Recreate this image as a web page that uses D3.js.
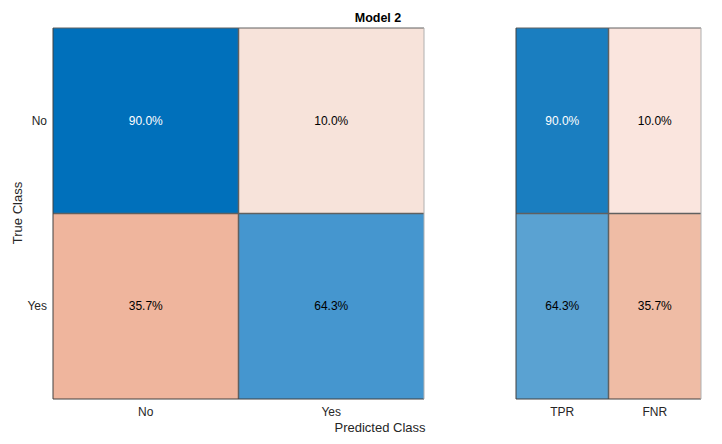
<!DOCTYPE html>
<html><head><meta charset="utf-8">
<script src="https://cdn.jsdelivr.net/npm/d3@7"></script>
<style>body{margin:0;background:#fff}svg{display:block;font-family:"Liberation Sans",Arial,sans-serif}</style>
</head><body><svg id="c" width="722" height="444"></svg>
<script>
const classes = ["No", "Yes"];
const matrixValues = [[90.0, 10.0], [35.7, 64.3]];
const matrixColors = [["#0070BB", "#F7E3DA"], ["#EFB59D", "#4596CF"]];
const rateLabels = ["TPR", "FNR"];
const rateValues = [[90.0, 10.0], [64.3, 35.7]];
const rateColors = [["#1A7EC0", "#FAE5DE"], ["#5AA2D2", "#EFBCA5"]];
const textColors = [["#fff", "#000"], ["#000", "#000"]];
const rateTextColors = [["#fff", "#000"], ["#000", "#000"]];

const svg = d3.select("#c");
const yTop = 28, yBottom = 399;
const y = d3.scaleBand().domain(classes).range([yTop, yBottom]);
const xMain = d3.scaleBand().domain(classes).range([53, 424]);
const xRate = d3.scaleBand().domain(rateLabels).range([516, 701]);

function panel(x, cols, vals, fills, tc) {
  const g = svg.append("g");
  classes.forEach((r, i) => cols.forEach((c, j) => {
    g.append("rect").attr("x", x(c)).attr("y", y(r)).attr("width", x.bandwidth()).attr("height", y.bandwidth())
      .attr("fill", fills[i][j]);
    g.append("text").attr("x", x(c) + x.bandwidth()/2).attr("y", y(r) + y.bandwidth()/2)
      .attr("text-anchor", "middle").attr("dominant-baseline", "central").attr("font-size", 12)
      .attr("fill", tc[i][j]).text(vals[i][j].toFixed(1) + "%");
  }));
  const x0 = x.range()[0], x1 = x.range()[1];
  g.append("line").attr("x1", x0).attr("x2", x1).attr("y1", y("Yes")).attr("y2", y("Yes")).attr("stroke", "#606060").attr("stroke-width", 1.5);
  g.append("line").attr("x1", x(cols[1])).attr("x2", x(cols[1])).attr("y1", yTop).attr("y2", yBottom).attr("stroke", "#606060").attr("stroke-width", 1.5);
  g.append("line").attr("x1", x0).attr("x2", x1).attr("y1", yTop).attr("y2", yTop).attr("stroke", "#606060");
  g.append("line").attr("x1", x0).attr("x2", x1).attr("y1", yBottom).attr("y2", yBottom).attr("stroke", "#404040");
  g.append("line").attr("x1", x0).attr("x2", x0).attr("y1", yTop).attr("y2", yBottom).attr("stroke", "#404040");
  g.append("line").attr("x1", x1).attr("x2", x1).attr("y1", yTop).attr("y2", yBottom).attr("stroke", "#b0b0b0");
  const ax = svg.append("g").attr("transform", `translate(0,${yBottom})`)
    .call(d3.axisBottom(x).tickSize(0).tickPadding(8));
  ax.select(".domain").remove();
  ax.selectAll("text").attr("font-size", 12).attr("fill", "#262626").attr("font-family", "Liberation Sans, Arial, sans-serif");
}
panel(xMain, classes, matrixValues, matrixColors, textColors);
panel(xRate, rateLabels, rateValues, rateColors, rateTextColors);

const ay = svg.append("g").attr("transform", "translate(53,0)").call(d3.axisLeft(y).tickSize(0).tickPadding(6));
ay.select(".domain").remove();
ay.selectAll("text").attr("font-size", 12).attr("fill", "#262626").attr("font-family", "Liberation Sans, Arial, sans-serif");

svg.append("text").attr("x", 378).attr("y", 22).attr("text-anchor", "middle").attr("font-size", 12.5).attr("font-weight", "bold").text("Model 2");
svg.append("text").attr("x", 380).attr("y", 432).attr("text-anchor", "middle").attr("font-size", 13).attr("fill", "#262626").text("Predicted Class");
svg.append("text").attr("transform", "translate(22,213) rotate(-90)").attr("text-anchor", "middle").attr("font-size", 13).attr("fill", "#262626").text("True Class");
</script></body></html>
